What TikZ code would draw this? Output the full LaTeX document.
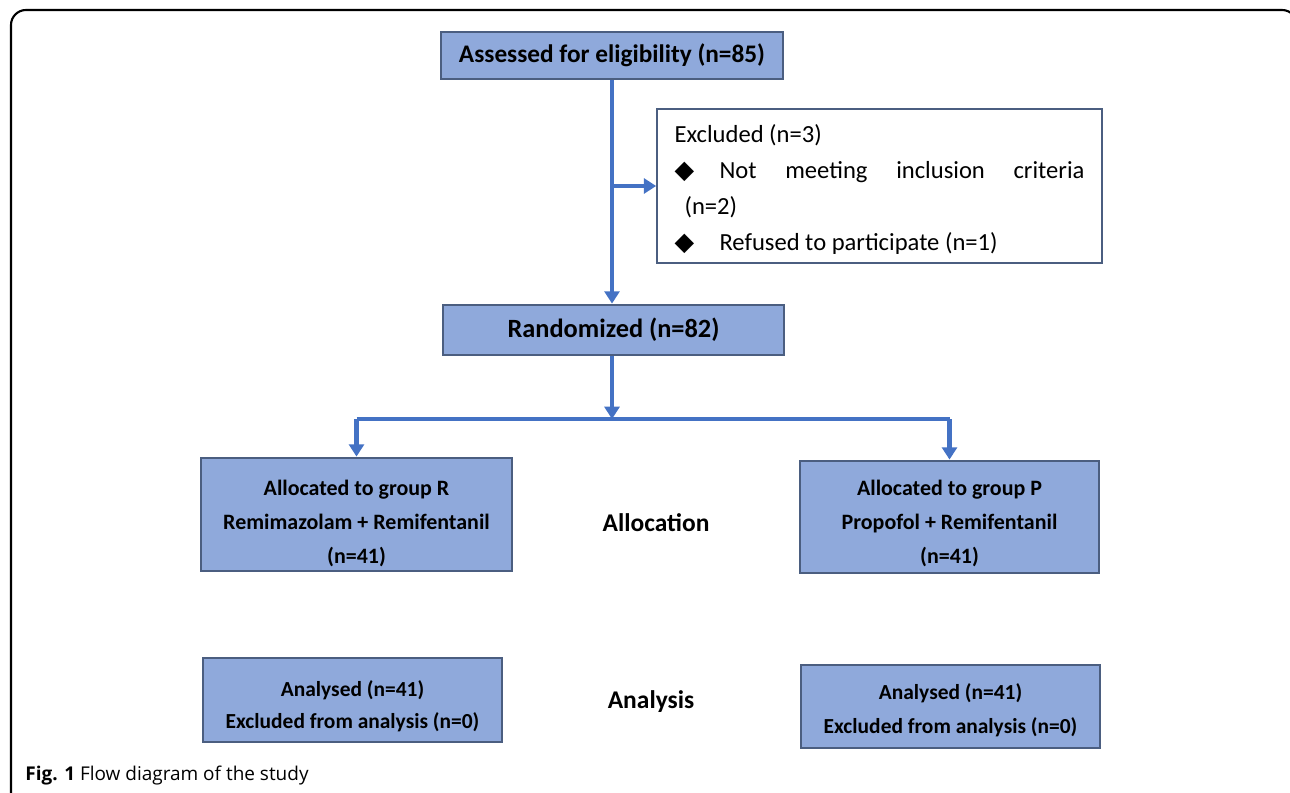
\documentclass[tikz,border=0pt]{standalone}
\usepackage{fontspec}
\setmainfont{Carlito}
\newfontfamily\capfont{Open Sans}
\newfontfamily\symfont{DejaVu Sans}
\usetikzlibrary{arrows.meta}
\definecolor{boxfill}{HTML}{8FA9DB}
\definecolor{boxline}{HTML}{4B5E80}
\definecolor{flowblue}{HTML}{4472C4}
\newcommand\txtdrop[1]{\rule{0pt}{#1}}
\newcommand\bulletmark{\makebox[0.9cm][l]{\symfont\fontsize{14.5}{14.5}\selectfont ◆}}
\tikzset{
	stagebox/.style={draw=boxline, line width=1.6pt, fill=boxfill, align=center, inner sep=0pt, font=\bfseries\fontsize{12.5}{19.4}\selectfont},
	resultbox/.style={stagebox, minimum width=5.98cm, font=\bfseries\fontsize{12.2}{18}\selectfont},
	stagelabel/.style={font=\bfseries\fontsize{14.5}{16}\selectfont},
	flow/.style={draw=flowblue, line width=2.3pt, -{Triangle[width=8.5pt,length=7pt]}},
	flowline/.style={draw=flowblue, line width=2.3pt},
}
\begin{document}
\begin{tikzpicture}[x=0.02cm, y=-0.02cm]
	\useasboundingbox (0,0) rectangle (1290,793);
	\clip (0,0) rectangle (1290,793);
	\draw[line width=1.2pt, rounded corners=0.3cm] (11,820) -- (11,10) -- (1297,10) -- (1297,60);
	% boxes
	\node[stagebox, minimum width=6.84cm, minimum height=0.94cm, font=\bfseries\fontsize{14.4}{16}\selectfont] (assess) at (612,55.5) {Assessed for eligibility (n=85)};
	\node[draw=boxline, line width=1pt, fill=white, minimum width=8.9cm, minimum height=3.08cm, text width=8.2cm, align=flush left, inner sep=0pt, font=\fontsize{14}{20.5}\selectfont] (excl) at (879.5,186)
		{\txtdrop{14pt}Excluded (n=3)\\
		\bulletmark Not\hfill meeting\hfill inclusion\hfill criteria\\
		\hspace*{0.2cm}(n=2)\\
		\bulletmark Refused to participate (n=1)};
	\node[stagebox, minimum width=6.82cm, minimum height=1.0cm, font=\bfseries\fontsize{15}{17}\selectfont] (rand) at (613.5,330) {Randomized (n=82)};
	\node[stagebox, minimum width=6.22cm, minimum height=2.26cm] (allocR) at (356.5,514.5) {\txtdrop{18.5pt}Allocated to group R\\Remimazolam + Remifentanil\\(n=41)};
	\node[stagebox, minimum width=5.98cm, minimum height=2.24cm] (allocP) at (949.5,517) {\txtdrop{15.7pt}Allocated to group P\\Propofol + Remifentanil\\(n=41)};
	\node[resultbox, minimum height=1.68cm] (anaL) at (352.5,700) {\txtdrop{16pt}Analysed (n=41)\\Excluded from analysis (n=0)};
	\node[resultbox, minimum height=1.66cm, font=\bfseries\fontsize{12.2}{19}\selectfont] (anaR) at (950.5,706.5) {\txtdrop{13.2pt}Analysed (n=41)\\Excluded from analysis (n=0)};
	% stage labels
	\node[stagelabel] (allocation) at (656,523) {Allocation};
	\node[stagelabel] (analysis) at (651,702) {Analysis};
	% caption
	\node[anchor=base west, inner sep=0pt, font=\capfont\fontsize{10.8}{13}\selectfont] (caption) at (25,780) {\textbf{Fig. 1} Flow diagram of the study};
	% connectors
	\coordinate (split) at (612,419);
	\draw[flow] (assess.south) -- (assess.south |- rand.north);
	\draw[flow] (assess.south |- excl.west) -- (excl.west);
	\draw[flow] (assess.south |- rand.south) -- (split);
	\draw[flowline] (split -| allocR.north) -- (split -| allocP.north);
	\draw[flow] (split -| allocR.north) -- (allocR.north);
	\draw[flow] (split -| allocP.north) -- (allocP.north);
\end{tikzpicture}
\end{document}
